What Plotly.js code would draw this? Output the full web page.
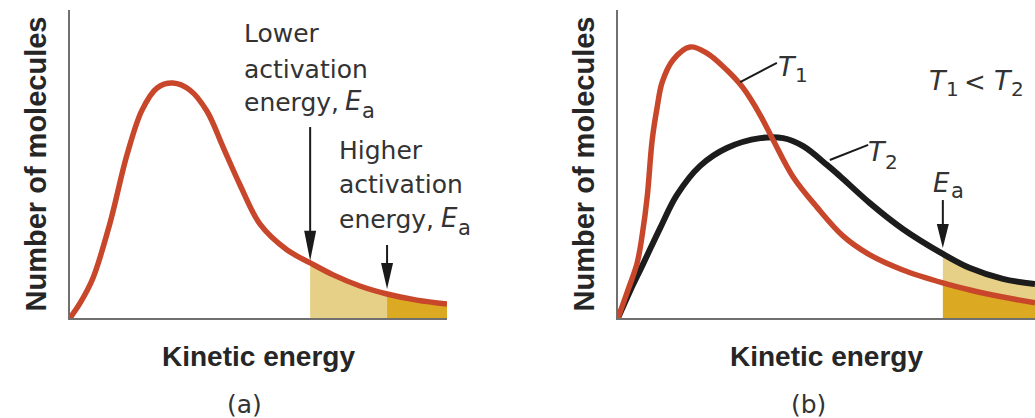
<!DOCTYPE html>
<html><head><meta charset="utf-8">
<script src="https://cdn.plot.ly/plotly-3.0.1.min.js"></script>
<style>html,body{margin:0;padding:0;background:#fff;}#chart{width:1035px;height:418px;}</style>
</head><body><div id="chart"></div>
<script>
// ---- Panel (a): one distribution, two activation energies ----
const energyA    = [0, 2.7, 6.1, 10.6, 15.1, 19.1, 23.1, 27.3, 31.8, 36.3, 40.6, 45.1, 50.4, 57.6, 63.7, 69.8, 76.9, 84.1, 92.0, 100];
const moleculesA = [0, 4.9, 13.0, 30.8, 52.9, 67.5, 74.7, 76.3, 74.0, 67.2, 55.5, 43.2, 30.5, 22.1, 17.9, 14.0, 10.4, 7.8, 5.8, 4.5];
const eaLowerA  = 63.7;
const eaHigherA = 84.1;

// ---- Panel (b): two temperatures ----
const energyT1    = [0, 2.4, 4.6, 5.8, 7.0, 8.2, 9.4, 10.6, 13.2, 17.3, 21.3, 26.1, 30.0, 34.1, 37.2, 42.0, 47.7, 54.0, 60.4, 68.3, 77.9, 84.4, 92.3, 100];
const moleculesT1 = [0, 9.1, 17.9, 26.9, 39.3, 57.8, 68.5, 76.6, 83.8, 88.0, 86.0, 80.5, 74.7, 65.9, 57.8, 45.8, 36.0, 26.6, 20.5, 15.6, 11.4, 9.1, 6.8, 4.9];
const energyT2    = [0, 2.9, 6.0, 10.1, 14.1, 19.7, 26.1, 34.1, 39.6, 44.4, 50.1, 53.2, 60.4, 68.3, 77.9, 84.4, 92.3, 100];
const moleculesT2 = [0, 8.8, 17.5, 29.2, 39.9, 49.4, 55.2, 58.4, 58.4, 55.8, 49.7, 46.1, 37.3, 28.9, 20.8, 16.2, 12.7, 11.0];
const eaB = 77.9;

const ORANGE = '#c8472b', BLACK = '#1c1c1c', AXIS = '#707070';
const LIGHT = '#e6cf86', DARK = '#dcaa22', TXT = '#333333';

function slice(xs, ys, lo, hi) {
  const x = [], y = [];
  xs.forEach((v, i) => { if (v >= lo - 1e-9 && v <= hi + 1e-9) { x.push(v); y.push(ys[i]); } });
  return {x, y};
}
const segA1 = slice(energyA, moleculesA, eaLowerA, eaHigherA);
const segA2 = slice(energyA, moleculesA, eaHigherA, 100);
const segT1 = slice(energyT1, moleculesT1, eaB, 100);
const segT2 = slice(energyT2, moleculesT2, eaB, 100);

const traces = [
  {x: segA1.x, y: segA1.y, xaxis:'x', yaxis:'y', mode:'lines', line:{width:0, shape:'spline'}, fill:'tozeroy', fillcolor:LIGHT, hoverinfo:'skip'},
  {x: segA2.x, y: segA2.y, xaxis:'x', yaxis:'y', mode:'lines', line:{width:0, shape:'spline'}, fill:'tozeroy', fillcolor:DARK, hoverinfo:'skip'},
  {x: energyA, y: moleculesA, xaxis:'x', yaxis:'y', mode:'lines', line:{color:ORANGE, width:5.5, shape:'spline', smoothing:1}},
  {x: segT1.x, y: segT1.y, xaxis:'x2', yaxis:'y2', mode:'lines', line:{width:0, shape:'spline'}, fill:'tozeroy', fillcolor:DARK, hoverinfo:'skip'},
  {x: segT2.x, y: segT2.y, xaxis:'x2', yaxis:'y2', mode:'lines', line:{width:0, shape:'spline'}, fill:'tonexty', fillcolor:LIGHT, hoverinfo:'skip'},
  {x: energyT2, y: moleculesT2, xaxis:'x2', yaxis:'y2', mode:'lines', line:{color:BLACK, width:6, shape:'spline', smoothing:1}},
  {x: energyT1, y: moleculesT1, xaxis:'x2', yaxis:'y2', mode:'lines', line:{color:ORANGE, width:5.5, shape:'spline', smoothing:1}}
];

const W = 1035, H = 418;
const px = v => v / W, py = v => 1 - v / H;
const fontFam = 'Liberation Sans, Arial, sans-serif';
const annFam = 'DejaVu Sans, sans-serif';

function axisX(domain, title) {
  return {domain, range:[0,100], showgrid:false, zeroline:false, showticklabels:false, ticks:'',
          showline:true, linecolor:AXIS, linewidth:2, fixedrange:true,
          title:{text:title, font:{family:fontFam, size:28, color:'#262626', weight:'bold'}, standoff:27}};
}
function axisY(anchor, title) {
  return {domain:[1 - 318/H, 1 - 10/H], range:[0,100], anchor, showgrid:false, zeroline:false, showticklabels:false, ticks:'',
          showline:true, linecolor:AXIS, linewidth:2, fixedrange:true,
          title:{text:title, font:{family:fontFam, size:29, color:'#262626', weight:'bold'}, standoff:13}};
}

// plain text pieces; italic letters and subscripts are their own pieces with explicit sizes
function txt(text, x, y, opts) {
  opts = opts || {};
  return {text, xref:'paper', yref:'paper', x:px(x), y:py(y), xanchor:opts.anchor || 'left', yanchor:'middle',
          showarrow:false, font:{family:annFam, size:opts.size || 25, color:TXT, style:opts.italic ? 'italic' : 'normal'}};
}
const I = (s, x, y, size) => txt(s, x, y, {italic:true, size:size || 26});
const S = (s, x, y, size) => txt(s, x, y, {size:size || 21});

const annotations = [
  txt('Lower', 242, 34), txt('activation', 242, 69), txt('energy,', 242, 102),
  I('E', 343, 101), S('a', 360, 111),
  txt('Higher', 337, 150), txt('activation', 337, 185), txt('energy,', 337, 219),
  I('E', 439, 218), S('a', 456, 228),
  I('T', 776, 66, 27), S('1', 793, 75, 20),
  I('T', 866, 151, 27), S('2', 883, 162, 20),
  I('E', 931, 183), S('a', 949, 191),
  I('T', 927, 80, 27), S('1', 944, 89, 20), txt('&lt;', 962, 82, {size:26}),
  I('T', 992, 80, 27), S('2', 1009, 89, 20),
  txt('(a)', 244, 404, {anchor:'center'}), txt('(b)', 808, 404, {anchor:'center'})
];

function arrow(xref, yref, xv, yTop, yTip, headLen) {
  return [
    {type:'line', xref, yref, x0:xv, x1:xv, y0:yTop, y1:yTip + 3, line:{color:'#1a1a1a', width:2}},
    {type:'path', xref, yref, xsizemode:'pixel', ysizemode:'pixel', xanchor:xv, yanchor:yTip,
     path:`M -6 ${headLen} L 6 ${headLen} L 0 0 Z`, fillcolor:'#1a1a1a', line:{width:0}}
  ];
}
const shapes = [
  ...arrow('x', 'y', eaLowerA, 62.0, 18.6, 30),
  ...arrow('x', 'y', eaHigherA, 23.7, 9.4, 26),
  ...arrow('x2', 'y2', eaB, 38.3, 22.7, 24),
  {type:'line', xref:'x2', yref:'y2', x0:29.3, y0:76.6, x1:38.1, y1:82.8, line:{color:'#1a1a1a', width:2}},
  {type:'line', xref:'x2', yref:'y2', x0:50.8, y0:51.3, x1:60.0, y1:56.2, line:{color:'#1a1a1a', width:2}}
];

const layout = {
  width:W, height:H, margin:{l:0, r:0, t:0, b:0}, paper_bgcolor:'#fff', plot_bgcolor:'rgba(0,0,0,0)',
  showlegend:false,
  xaxis: Object.assign(axisX([70/W, 447/W], 'Kinetic energy'), {anchor:'y'}),
  yaxis: axisY('x', 'Number of molecules'),
  xaxis2: Object.assign(axisX([618/W, 1], 'Kinetic energy'), {anchor:'y2'}),
  yaxis2: axisY('x2', 'Number of molecules'),
  annotations, shapes
};

Plotly.newPlot('chart', traces, layout, {displayModeBar:false, staticPlot:true});
</script></body></html>
